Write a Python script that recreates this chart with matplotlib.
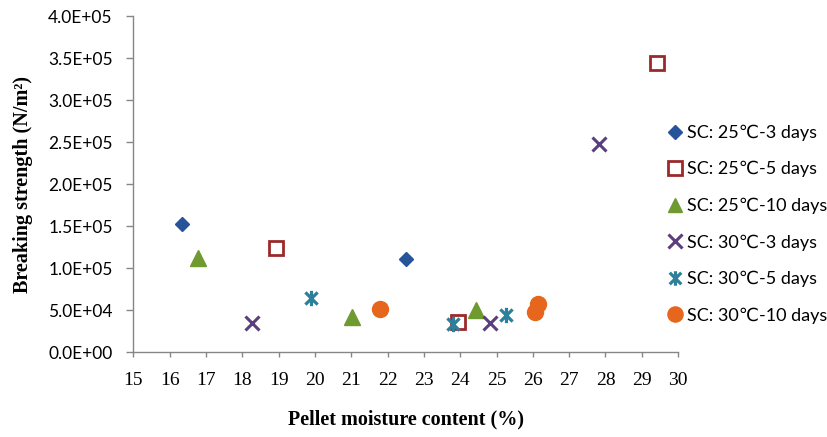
import numpy as np
from matplotlib import pyplot as plt
from matplotlib.path import Path
from matplotlib.ticker import FuncFormatter, MultipleLocator

# pellet moisture content (%) and breaking strength (N/m2) per storage condition
labels = ["SC: 25\u2103-3 days", "SC: 25\u2103-5 days", "SC: 25\u2103-10 days",
          "SC: 30\u2103-3 days", "SC: 30\u2103-5 days", "SC: 30\u2103-10 days"]
x_25_3 = [16.33, 22.50]
y_25_3 = [1.53e5, 1.11e5]
x_25_5 = [18.92, 23.95, 29.43]
y_25_5 = [1.24e5, 3.6e4, 3.44e5]
x_25_10 = [16.79, 21.01, 24.43]
y_25_10 = [1.12e5, 4.2e4, 5.0e4]
x_30_3 = [18.26, 24.83, 27.82]
y_30_3 = [3.5e4, 3.5e4, 2.48e5]
x_30_5 = [19.88, 23.80, 25.25]
y_30_5 = [6.4e4, 3.3e4, 4.4e4]
x_30_10 = [21.79, 26.05, 26.14]
y_30_10 = [5.2e4, 4.8e4, 5.7e4]

# excel-like asterisk: an x with a vertical bar
star = Path([(-1, -1), (1, 1), (-1, 1), (1, -1), (0, -1.25), (0, 1.25)],
            [Path.MOVETO, Path.LINETO, Path.MOVETO, Path.LINETO, Path.MOVETO, Path.LINETO])

fig = plt.figure(figsize=(8.28, 4.37), dpi=100)
ax = fig.add_axes([0.161, 0.194, 0.658, 0.769])

ax.plot(x_25_3, y_25_3, ls='none', marker='D', ms=7.4, color='#27539A', label=labels[0])
ax.plot(x_25_5, y_25_5, ls='none', marker='s', ms=10, mfc='white', mec='#9A2A2A', mew=2.0, label=labels[1])
ax.plot(x_25_10, y_25_10, ls='none', marker='^', ms=11, color='#6F9A30', label=labels[2])
ax.plot(x_30_3, y_30_3, ls='none', marker='x', ms=10, mew=2.2, color='#5A3F7E', label=labels[3])
ax.plot(x_30_5, y_30_5, ls='none', marker=star, ms=11, mfc='none', mew=2.3, mec='#2C809B', label=labels[4])
ax.plot(x_30_10, y_30_10, ls='none', marker='o', ms=11.5, color='#E6661E', label=labels[5])

ax.set_xlim(15, 30)
ax.set_ylim(0, 4.0e5)
ax.xaxis.set_major_locator(MultipleLocator(1))
ax.yaxis.set_major_locator(MultipleLocator(5e4))
ax.yaxis.set_major_formatter(FuncFormatter(lambda v, p: "%.1E" % v))

for s in ['top', 'right']:
    ax.spines[s].set_visible(False)
for s in ['left', 'bottom']:
    ax.spines[s].set_color('#868686')
    ax.spines[s].set_linewidth(1.0)
ax.tick_params(axis='both', direction='out', width=1.0, color='#868686')
ax.tick_params(axis='x', length=3.5, pad=11, labelsize=14, labelfontfamily='Liberation Serif')
ax.tick_params(axis='y', length=4.8, pad=10, labelsize=12.5, labelfontfamily='Lato')

ax.set_xlabel("Pellet moisture content (%)", fontfamily='Liberation Serif',
              fontweight='bold', fontsize=14.5)
ax.xaxis.set_label_coords(0.5, -0.17)
ax.set_ylabel("Breaking strength (N/m\u00b2)", fontfamily='Liberation Serif',
              fontweight='bold', fontsize=14.5)
ax.yaxis.set_label_coords(-0.184, 0.5)

fig.legend(loc='upper left', bbox_to_anchor=(0.806, 0.715), frameon=False,
           prop={'family': ['Lato', 'DejaVu Sans'], 'size': 13},
           handlelength=0.8, handletextpad=0.3, labelspacing=1.12, borderaxespad=0,
           borderpad=0, numpoints=1, markerscale=0.95)

fig.savefig("out.png", dpi=100)
